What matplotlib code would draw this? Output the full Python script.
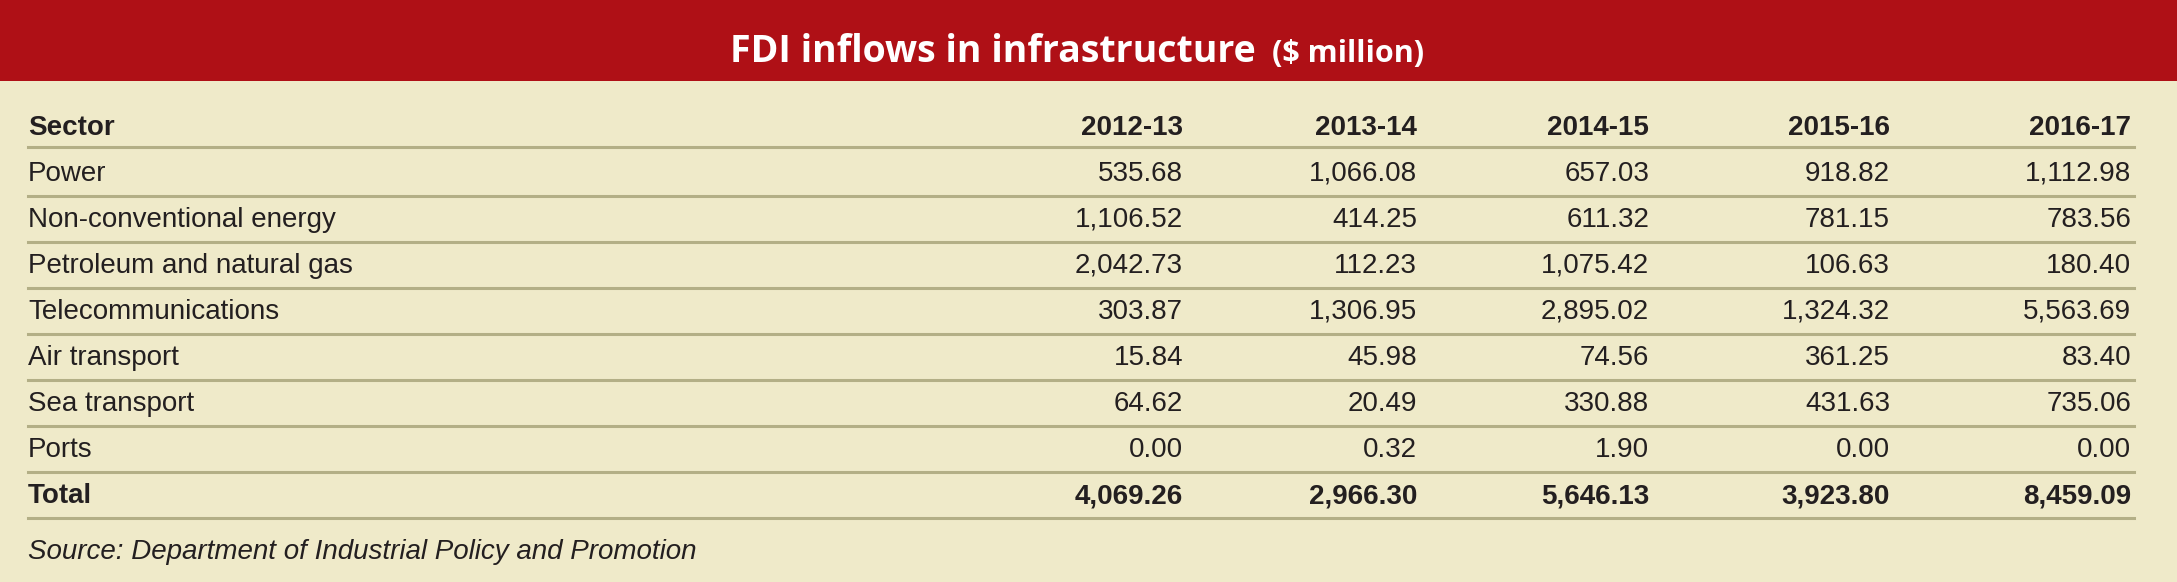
import matplotlib
matplotlib.use('Agg')
import matplotlib.pyplot as plt
from matplotlib.patches import Rectangle

# Table data
years = ['2012-13', '2013-14', '2014-15', '2015-16', '2016-17']
sectors = ['Power', 'Non-conventional energy', 'Petroleum and natural gas',
           'Telecommunications', 'Air transport', 'Sea transport', 'Ports']
power = ['535.68', '1,066.08', '657.03', '918.82', '1,112.98']
non_conv = ['1,106.52', '414.25', '611.32', '781.15', '783.56']
petroleum = ['2,042.73', '112.23', '1,075.42', '106.63', '180.40']
telecom = ['303.87', '1,306.95', '2,895.02', '1,324.32', '5,563.69']
air = ['15.84', '45.98', '74.56', '361.25', '83.40']
sea = ['64.62', '20.49', '330.88', '431.63', '735.06']
ports = ['0.00', '0.32', '1.90', '0.00', '0.00']
totals = ['4,069.26', '2,966.30', '5,646.13', '3,923.80', '8,459.09']
rows = [power, non_conv, petroleum, telecom, air, sea, ports]

title_main = 'FDI inflows in infrastructure'
title_unit = '($ million)'
source = 'Source: Department of Industrial Policy and Promotion'

# colours
red = '#AF1016'
cream = '#EFEAC9'
rule = '#B3AF86'
ink = '#231F20'

body_font = 'Liberation Sans'
title_font = 'Open Sans'

W, H = 2177, 582
fig = plt.figure(figsize=(W / 100, H / 100), dpi=100)
fig.patch.set_facecolor(cream)
ax = fig.add_axes([0, 0, 1, 1])
ax.set_xlim(0, W)
ax.set_ylim(H, 0)
ax.axis('off')

# title band
ax.add_patch(Rectangle((0, 0), W, 81, color=red, lw=0))
ax.text(1256, 62, title_main, color='white', fontsize=27, fontweight='bold',
        family=title_font, ha='right', va='baseline')
ax.text(1272, 62, title_unit, color='white', fontsize=22, fontweight='bold',
        family=title_font, ha='left', va='baseline')

left = 28
right = 2134
col_right = [1183, 1417, 1649, 1890, 2131]
pitch = 46
header_y = 128

# header row
ax.text(left, header_y, 'Sector', fontsize=20, fontweight='bold',
        family=body_font, color=ink, va='center')
for x, yr in zip(col_right, years):
    ax.text(x, header_y, yr, fontsize=20, fontweight='bold',
            family=body_font, color=ink, va='center', ha='right')
ax.plot([left, right], [header_y + 19, header_y + 19], color=rule, lw=2.2)

# body rows
for i, (name, vals) in enumerate(zip(sectors, rows)):
    y = header_y + pitch * (i + 1)
    ax.text(left, y, name, fontsize=20, family=body_font, color=ink, va='center')
    for x, v in zip(col_right, vals):
        ax.text(x, y, v, fontsize=20, family=body_font, color=ink,
                va='center', ha='right')
    ax.plot([left, right], [y + 22, y + 22], color=rule, lw=2.2)

# total row
y = header_y + pitch * (len(sectors) + 1)
ax.text(left, y, 'Total', fontsize=20, fontweight='bold', family=body_font,
        color=ink, va='center')
for x, v in zip(col_right, totals):
    ax.text(x, y, v, fontsize=20, fontweight='bold', family=body_font,
            color=ink, va='center', ha='right')
ax.plot([left, right], [y + 22, y + 22], color=rule, lw=2.2)

ax.text(left, 552, source, fontsize=20, style='italic', family=body_font,
        color=ink, va='center')

fig.savefig('out.png', dpi=100, facecolor=cream)
